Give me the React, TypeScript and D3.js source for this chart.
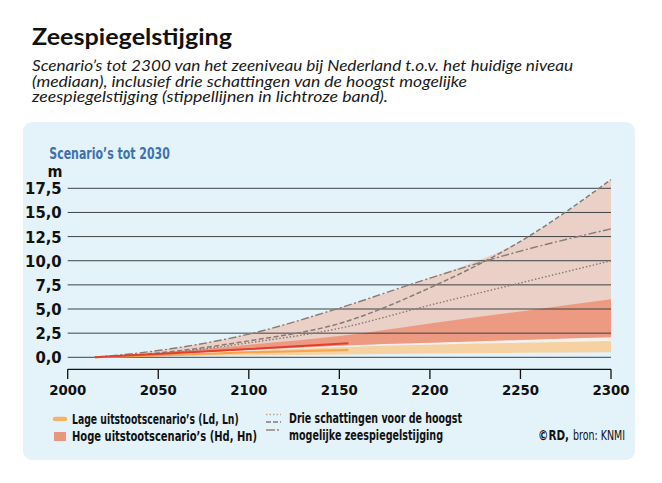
import React from "react";
import * as d3 from "d3";

const years = [2015, 2050, 2100, 2150, 2200, 2250, 2300];
const dottedMax = [0, 0.35, 1.5, 3.0, 5.4, 7.7, 10.0];
const dashedMax = [0, 0.45, 1.7, 3.5, 7.2, 12.0, 18.4];
const dashDotMax = [0, 0.7, 2.4, 5.1, 8.2, 11.0, 13.3];
const highLow = [0, 0.3, 0.75, 1.2, 1.5, 1.8, 2.07];
const highHigh = [0, 0.45, 1.3, 2.2, 3.5, 4.75, 6.0];
const lowLow = [0, 0.1, 0.2, 0.3, 0.4, 0.46, 0.52];
const lowHigh = [0, 0.25, 0.65, 1.05, 1.3, 1.5, 1.7];

const medianYears = [2015, 2050, 2100, 2155];
const highMedian = [0, 0.35, 0.85, 1.45];
const lowMedian = [0, 0.18, 0.52, 0.75];

const xTicks = [2000, 2050, 2100, 2150, 2200, 2250, 2300];
const yTicks = [0, 2.5, 5, 7.5, 10, 12.5, 15, 17.5];

const W = 662;
const H = 483;
const NARROW = "'Liberation Sans Narrow', 'DejaVu Sans Condensed', 'Roboto Condensed', Arial, sans-serif";
const SANS = "Lato, 'Open Sans', 'Noto Sans', sans-serif";

export default function App() {
  const x = d3.scaleLinear().domain([2000, 2300]).range([67.7, 611]);
  const y = d3.scaleLinear().domain([0, 17.5]).range([357.3, 188.3]);

  const idx = years.map((_, i) => i);
  const band = (lo: number[], hi: number[]) =>
    d3
      .area<number>()
      .x((i) => x(years[i]))
      .y0((i) => y(lo[i]))
      .y1((i) => y(hi[i]))
      .curve(d3.curveMonotoneX)(idx) || "";
  const envelope = years.map((_, i) => Math.max(dottedMax[i], dashedMax[i], dashDotMax[i]));
  const line = (vals: number[], yrs: number[]) =>
    d3
      .line<number>()
      .x((v, i) => x(yrs[i]))
      .y((v) => y(v))
      .curve(d3.curveMonotoneX)(vals) || "";

  const fmt = (v: number) => v.toFixed(1).replace(".", ",");
  const grey = "#857b77";

  return (
    <svg
      width={W}
      height={H}
      style={{ position: "absolute", left: 0, top: 0, background: "#ffffff" }}
    >
      <text x={32} y={45} fontFamily={SANS} fontWeight={700} fontSize={22.5} fill="#111" textLength={200} lengthAdjust="spacingAndGlyphs">
        Zeespiegelstijging
      </text>
      <g fontFamily={SANS} fontStyle="italic" fontSize={14.5} fill="#1a1a1a">
        <text x={32} y={70.5} textLength={541} lengthAdjust="spacingAndGlyphs">
          Scenario’s tot 2300 van het zeeniveau bij Nederland t.o.v. het huidige niveau
        </text>
        <text x={32} y={86.5} textLength={435} lengthAdjust="spacingAndGlyphs">
          (mediaan), inclusief drie schattingen van de hoogst mogelijke
        </text>
        <text x={32} y={102} textLength={356} lengthAdjust="spacingAndGlyphs">
          zeespiegelstijging (stippellijnen in lichtroze band).
        </text>
      </g>

      <rect x={23} y={122} width={612} height={338} rx={9} fill="#e4f3fa" />

      <text x={49.3} y={159.3} fontFamily={NARROW} fontWeight={700} fontSize={16.5} fill="#3e72ac" textLength={120.5} lengthAdjust="spacingAndGlyphs">
        Scenario’s tot 2030
      </text>
      <text x={55} y={177} textAnchor="middle" fontFamily={NARROW} fontWeight={700} fontSize={16} fill="#111">
        m
      </text>

      {/* bands */}
      <path d={band(highLow, envelope)} fill="#ebd0c7" />
      <path d={band(lowHigh, highLow)} fill="#f7efec" />
      <path d={band(highLow, highHigh)} fill="#ed9a83" />
      <path d={band(lowLow, lowHigh)} fill="#f6d1a1" />

      {/* gridlines */}
      {yTicks.map((t) => (
        <g key={t}>
          <line x1={67.7} x2={611} y1={y(t)} y2={y(t)} stroke="#3d4246" strokeWidth={1} />
          <text
            x={61.7}
            y={y(t)}
            dy="0.36em"
            textAnchor="end"
            fontFamily={NARROW}
            fontWeight={700}
            fontSize={16.5}
            fill="#111"
          >
            {fmt(t)}
          </text>
        </g>
      ))}

      {/* max-estimate lines */}
      <path d={line(dottedMax, years)} fill="none" stroke={grey} strokeWidth={1.4} strokeDasharray="1.5 2" />
      <path d={line(dashedMax, years)} fill="none" stroke={grey} strokeWidth={1.5} strokeDasharray="5 2.5" />
      <path d={line(dashDotMax, years)} fill="none" stroke={grey} strokeWidth={1.4} strokeDasharray="8 2.5 2 2.5" />

      {/* medians */}
      <path d={line(lowMedian, medianYears)} fill="none" stroke="#f3a44f" strokeWidth={2} />
      <path d={line(highMedian, medianYears)} fill="none" stroke="#e43e2d" strokeWidth={2} />

      {/* x axis */}
      <line x1={67.7} x2={611} y1={369.3} y2={369.3} stroke="#111" strokeWidth={1.3} />
      {xTicks.map((t) => (
        <g key={t}>
          <line x1={x(t)} x2={x(t)} y1={369.3} y2={379} stroke="#111" strokeWidth={1.3} />
          <text
            x={x(t)}
            y={390}
            dy="0.36em"
            textAnchor="middle"
            fontFamily={NARROW}
            fontWeight={700}
            fontSize={14.8}
            fill="#111"
          >
            {t}
          </text>
        </g>
      ))}

      {/* legend */}
      <g fontFamily={NARROW} fontWeight={700} fontSize={14} fill="#111">
        <line x1={55} x2={65} y1={419} y2={419} stroke="#f4b366" strokeWidth={4.5} strokeLinecap="round" />
        <text x={72} y={419} dy="0.36em" textLength={166.7} lengthAdjust="spacingAndGlyphs">
          Lage uitstootscenario’s (Ld, Ln)
        </text>
        <rect x={54} y={432} width={12} height={9} fill="#e9967f" />
        <text x={72} y={436} dy="0.36em" textLength={185} lengthAdjust="spacingAndGlyphs">
          Hoge uitstootscenario’s (Hd, Hn)
        </text>

        <line x1={266} x2={281} y1={414.5} y2={414.5} stroke="#c4a29a" strokeWidth={1.6} strokeDasharray="1.5 2" />
        <line x1={266} x2={281} y1={422} y2={422} stroke={grey} strokeWidth={1.6} strokeDasharray="5 2" />
        <line x1={266} x2={281} y1={430} y2={430} stroke="#9a807a" strokeWidth={1.6} strokeDasharray="9 2 2 2" />
        <text x={289} y={418} dy="0.36em" textLength={173} lengthAdjust="spacingAndGlyphs">
          Drie schattingen voor de hoogst
        </text>
        <text x={289} y={435} dy="0.36em" textLength={154} lengthAdjust="spacingAndGlyphs">
          mogelijke zeespiegelstijging
        </text>

        <text x={538} y={435} dy="0.36em" fontWeight={700} textLength={31} lengthAdjust="spacingAndGlyphs">
          ©RD,
        </text>
        <text x={625} y={435} dy="0.36em" textAnchor="end" fontWeight={400} textLength={52} lengthAdjust="spacingAndGlyphs">
          bron: KNMI
        </text>
      </g>
    </svg>
  );
}
